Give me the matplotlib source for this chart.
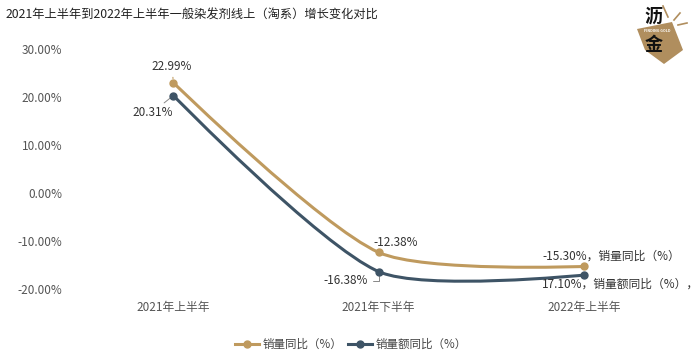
import numpy as np
import matplotlib
matplotlib.use('Agg')
import matplotlib.pyplot as plt
from matplotlib.path import Path
from matplotlib.patches import PathPatch, Polygon
from matplotlib.lines import Line2D

plt.rcParams['font.family'] = ['Noto Sans CJK SC', 'DejaVu Sans']

# data
categories = ['2021年上半年', '2021年下半年', '2022年上半年']
sales_qty = [22.99, -12.38, -15.30]     # 销量同比（%）
sales_amt = [20.31, -16.38, -17.10]     # 销量额同比（%）
series_names = ['销量同比（%）', '销量额同比（%）']
y_ticks = [-20, -10, 0, 10, 20, 30]

gold = '#BF9A5E'
slate = '#3E5466'
text_c = '#333333'

fig = plt.figure(figsize=(7, 3.57), dpi=100)
ax = fig.add_axes([0.101, 0.1905, 0.880, 0.6722])
x = np.arange(len(categories))
ax.set_xlim(-0.5, len(categories) - 0.5)
ax.set_ylim(-20, 30)
ax.set_yticks(y_ticks)
ax.set_yticklabels([f'{v:.2f}%' for v in y_ticks])
ax.set_xticks(x)
ax.set_xticklabels(categories)
ax.tick_params(length=0, labelsize=8.5, colors='#555555')
ax.tick_params(axis='x', pad=8.5)
ax.tick_params(axis='y', pad=6)
for s in ax.spines.values():
    s.set_visible(False)


def smooth_path(xs, ys, smooth=0.25):
    # bezier smoothing through the points, computed in pixel space
    pts = ax.transData.transform(np.column_stack([xs, ys]))
    n = len(pts)
    cps = []
    for i in range(n):
        p = pts[i]
        if i == 0 or i == n - 1:
            cps.append((p, p))
            continue
        prev, nxt = pts[i - 1], pts[i + 1]
        v = (nxt - prev) * smooth
        d0 = np.hypot(*(p - prev))
        d1 = np.hypot(*(p - nxt))
        tot = d0 + d1
        cps.append((p - v * d0 / tot, p + v * d1 / tot))
    verts = [pts[0]]
    codes = [Path.MOVETO]
    for i in range(n - 1):
        verts += [cps[i][1], cps[i + 1][0], pts[i + 1]]
        codes += [Path.CURVE4] * 3
    verts = ax.transData.inverted().transform(np.array(verts))
    return Path(verts, codes)


for vals, col in [(sales_qty, gold), (sales_amt, slate)]:
    ax.add_patch(PathPatch(smooth_path(x, vals), fill=False, edgecolor=col,
                           lw=2.2, capstyle='round', zorder=3))
    ax.plot(x, vals, 'o', color=col, ms=5, zorder=4)

# labels
lab = dict(fontsize=8.5, color=text_c, textcoords='offset points', va='center')
ax.annotate(f'{sales_qty[0]:.2f}%', (x[0], sales_qty[0]), xytext=(-1, 11.5), ha='center',
            arrowprops=dict(arrowstyle='-', color=gold, lw=0.8, shrinkA=1, shrinkB=3), **lab)
ax.annotate(f'{sales_amt[0]:.2f}%', (x[0], sales_amt[0]), xytext=(-15, -12), ha='center',
            arrowprops=dict(arrowstyle='-', color='#888888', lw=0.7, shrinkA=0, shrinkB=3), **lab)
ax.annotate(f'{sales_qty[1]:.2f}%', (x[1], sales_qty[1]), xytext=(12, 7), ha='center', **lab)
ax.annotate(f'{sales_amt[1]:.2f}%', (x[1], sales_amt[1]), xytext=(-24, -6.5), ha='center',
            arrowprops=dict(arrowstyle='-', color='#888888', lw=0.7, shrinkA=2, shrinkB=3,
                            connectionstyle='angle,angleA=0,angleB=90'), **lab)
ax.annotate(f'{sales_qty[2]:.2f}%，{series_names[0]}', (x[2], sales_qty[2]), xytext=(-30, 7.5),
            ha='left', **lab)
ax.annotate(f'{abs(sales_amt[2]):.2f}%，{series_names[1]}，', (x[2], sales_amt[2]), xytext=(-30, -6.5),
            ha='left', **lab)

# title
fig.text(0.008, 0.958, '2021年上半年到2022年上半年一般染发剂线上（淘系）增长变化对比',
         fontsize=8.8, color='#222222', va='center', ha='left')

# legend
handles = [Line2D([], [], color=gold, lw=2.2, marker='o', ms=5),
           Line2D([], [], color=slate, lw=2.2, marker='o', ms=5)]
fig.legend(handles, series_names, loc='center', bbox_to_anchor=(0.501, 0.036), ncol=2,
           frameon=False, fontsize=8.3, handlelength=2.1, columnspacing=0.5,
           handletextpad=0.3, labelcolor='#444444')

# logo
W, H = 700, 357
def fx(px): return px / W
def fy(py): return 1 - py / H
logo = [(637, 29), (672, 22), (683, 50), (664, 64), (645, 50)]
fig.patches.append(Polygon([(fx(a), fy(b)) for a, b in logo], closed=True,
                           transform=fig.transFigure, facecolor='#B08E5E', edgecolor='none'))
for (a, b), (c, d) in [((663, 6), (668, 17)), ((680, 13), (674, 20)), ((687, 23), (678, 25))]:
    fig.lines.append(Line2D([fx(a), fx(c)], [fy(b), fy(d)], transform=fig.transFigure,
                            color='#B08E5E', lw=1.2))
fig.text(fx(653), fy(16), '沥', fontsize=13, fontweight='bold', color='#111111',
         ha='center', va='center')
fig.text(fx(654), fy(45), '金', fontsize=13, fontweight='bold', color='#111111',
         ha='center', va='center')
fig.text(fx(657), fy(31), 'FINDING GOLD', fontsize=2.6, fontweight='bold', color='white',
         ha='center', va='center')

fig.savefig('out.png', dpi=100, facecolor='white')
